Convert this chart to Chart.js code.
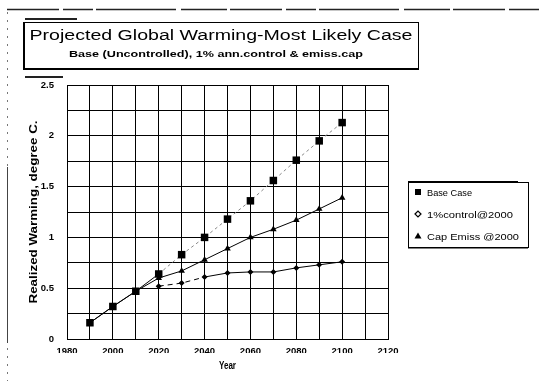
<!DOCTYPE html>
<html>
<head>
<meta charset="utf-8">
<script src="https://cdn.jsdelivr.net/npm/chart.js@4/dist/chart.umd.min.js"></script>
<style>
  html, body { margin: 0; padding: 0; background: #fff; }
  canvas { display: block; }
</style>
</head>
<body>
<canvas id="chart" width="542" height="381"></canvas>
<script>
// Realized warming (deg C) by decade for three emission scenarios
const years       = [1990, 2000, 2010, 2020, 2030, 2040, 2050, 2060, 2070, 2080, 2090, 2100];
const baseCase    = [0.16, 0.32, 0.47, 0.64, 0.83, 1.00, 1.18, 1.36, 1.56, 1.76, 1.95, 2.13];
const control1pct = [null, null, null, 0.52, 0.55, 0.61, 0.65, 0.66, 0.66, 0.70, 0.73, 0.76];
const capEmiss    = [0.16, 0.32, 0.47, 0.60, 0.67, 0.78, 0.89, 1.00, 1.08, 1.17, 1.28, 1.39];
const seriesNames = ['Base Case', '1%control@2000', 'Cap Emiss @2000'];

const chartTitle    = 'Projected Global Warming-Most Likely Case';
const chartSubtitle = 'Base (Uncontrolled), 1% ann.control & emiss.cap';
const xAxisTitle    = 'Year';
const yAxisTitle    = 'Realized Warming, degree C.';
const xRange = [1980, 2120];
const yRange = [0, 2.5];

const FONT = '"Liberation Sans", Arial, sans-serif';

function toPoints(values) {
  return years.map((yr, i) => ({ x: yr, y: values[i] })).filter(p => p.y !== null);
}

// Draw a line of text stretched horizontally to a given width
function fitText(ctx, text, x, y, width, font, align) {
  ctx.save();
  ctx.font = font;
  const w = ctx.measureText(text).width;
  ctx.translate(x, y);
  ctx.scale(width / w, 1);
  ctx.textAlign = align || 'center';
  ctx.textBaseline = 'alphabetic';
  ctx.fillStyle = '#000';
  ctx.fillText(text, 0, 0);
  ctx.restore();
}

const decorations = {
  id: 'decorations',
  afterDraw(chart) {
    const ctx = chart.ctx;
    const area = chart.chartArea;
    ctx.save();

    // outer frame remnants
    ctx.strokeStyle = '#222';
    ctx.lineWidth = 1.5;
    ctx.setLineDash([52, 4, 30, 3, 80, 5, 46, 3]);
    ctx.beginPath(); ctx.moveTo(7, 9.5); ctx.lineTo(542, 9.5); ctx.stroke();
    ctx.lineWidth = 1;
    ctx.strokeStyle = '#777';
    ctx.setLineDash([2, 6]);
    ctx.beginPath(); ctx.moveTo(7.5, 12); ctx.lineTo(7.5, 381); ctx.stroke();
    ctx.setLineDash([]);
    ctx.strokeStyle = '#444';
    ctx.beginPath(); ctx.moveTo(7.5, 167); ctx.lineTo(7.5, 343); ctx.stroke();
    ctx.fillStyle = '#222';
    ctx.fillRect(25, 18, 52, 2);
    ctx.fillRect(25, 76, 38, 2);

    // title box
    ctx.fillStyle = '#fff';
    ctx.fillRect(24, 22, 395, 48);
    ctx.strokeStyle = '#000';
    ctx.lineWidth = 1;
    ctx.strokeRect(24.5, 22.5, 394, 47);
    ctx.fillStyle = '#000';
    ctx.fillRect(23, 22, 2, 48);
    ctx.fillRect(23, 68, 396, 2);
    fitText(ctx, chartTitle, 221, 39.5, 383, '14px ' + FONT);
    fitText(ctx, chartSubtitle, 216, 57, 294, 'bold 9.5px ' + FONT);

    // axis titles
    ctx.save();
    ctx.translate(37, (area.top + area.bottom) / 2);
    ctx.rotate(-Math.PI / 2);
    fitText(ctx, yAxisTitle, 0, 0, 183, 'bold 10px ' + FONT);
    ctx.restore();
    fitText(ctx, xAxisTitle, (area.left + area.right) / 2, 369, 17, 'bold 10px ' + FONT);

    // legend
    const lx = 408, ly = 182, lw = 120, lh = 65;
    ctx.fillStyle = '#fff';
    ctx.fillRect(lx, ly, lw, lh);
    ctx.strokeStyle = '#000';
    ctx.lineWidth = 1;
    ctx.strokeRect(lx + 0.5, ly + 0.5, lw, lh);
    ctx.fillStyle = '#000';
    ctx.fillRect(lx, ly - 1, 110, 2);
    ctx.fillRect(lx, ly + lh, lw, 1.5);

    const rows = [192, 214, 236];
    const textWidths = [45, 86, 92];
    const mx = 418;
    // square
    ctx.fillRect(mx - 3, rows[0] - 3, 6, 6);
    // open diamond
    ctx.lineWidth = 1.2;
    ctx.beginPath();
    ctx.moveTo(mx - 3, rows[1]); ctx.lineTo(mx, rows[1] - 3);
    ctx.lineTo(mx + 3, rows[1]); ctx.lineTo(mx, rows[1] + 3); ctx.closePath();
    ctx.stroke();
    // filled triangle
    ctx.beginPath();
    ctx.moveTo(mx, rows[2] - 3.5); ctx.lineTo(mx + 3.5, rows[2] + 2.5);
    ctx.lineTo(mx - 3.5, rows[2] + 2.5); ctx.closePath();
    ctx.fill();
    seriesNames.forEach((name, i) => {
      fitText(ctx, name, 427, rows[i] + 3.5, textWidths[i], '9px ' + FONT, 'left');
    });

    ctx.restore();
  }
};

const tickFont = { family: FONT, size: 9.5, weight: 'bold' };

new Chart(document.getElementById('chart'), {
  type: 'line',
  data: {
    datasets: [
      {
        label: seriesNames[0],
        data: toPoints(baseCase),
        borderColor: '#000',
        borderWidth: 1,
        pointStyle: 'rect',
        pointRadius: 5.3,
        pointBackgroundColor: '#000',
        pointBorderColor: '#000',
        pointBorderWidth: 0,
        segment: {
          borderDash: c => c.p0.parsed.x >= 2020 ? [3, 3] : undefined,
          borderColor: c => c.p0.parsed.x >= 2020 ? '#888' : '#000'
        }
      },
      {
        label: seriesNames[1],
        data: toPoints(control1pct),
        borderColor: '#000',
        borderWidth: 1,
        pointStyle: 'rectRot',
        pointRadius: 3,
        pointBackgroundColor: '#000',
        pointBorderColor: '#000',
        pointBorderWidth: 0,
        segment: {
          borderDash: c => c.p0.parsed.x < 2040 ? [5, 4] : undefined
        }
      },
      {
        label: seriesNames[2],
        data: toPoints(capEmiss),
        borderColor: '#000',
        borderWidth: 1,
        pointStyle: 'triangle',
        pointRadius: c => (c.raw && c.raw.x < 2020) ? 0 : 3.8,
        pointBackgroundColor: '#000',
        pointBorderColor: '#000',
        pointBorderWidth: 0
      }
    ]
  },
  options: {
    responsive: false,
    animation: false,
    devicePixelRatio: 1,
    layout: { padding: { left: 20, right: 154, top: 85, bottom: 28 } },
    plugins: {
      legend: { display: false },
      title: { display: false },
      tooltip: { enabled: false }
    },
    scales: {
      x: {
        type: 'linear',
        min: xRange[0],
        max: xRange[1],
        afterFit: s => { s.height = 14; },
        border: { color: '#000', width: 1 },
        grid: { color: '#000', lineWidth: 1, drawTicks: false },
        ticks: {
          stepSize: 10,
          padding: 7,
          color: '#000',
          font: tickFont,
          maxRotation: 0,
          autoSkip: false,
          callback: v => (v % 20 === 0 ? String(v) : '')
        }
      },
      y: {
        type: 'linear',
        min: yRange[0],
        max: yRange[1],
        afterFit: s => { s.width = 47; },
        border: { color: '#000', width: 1 },
        grid: { color: '#000', lineWidth: 1, drawTicks: false },
        ticks: {
          stepSize: 0.25,
          padding: 13,
          color: '#000',
          font: tickFont,
          autoSkip: false,
          callback: v => (Math.abs(v * 2 - Math.round(v * 2)) < 1e-6 ? String(+v.toFixed(2)) : '')
        }
      }
    }
  },
  plugins: [decorations]
});
</script>
</body>
</html>
